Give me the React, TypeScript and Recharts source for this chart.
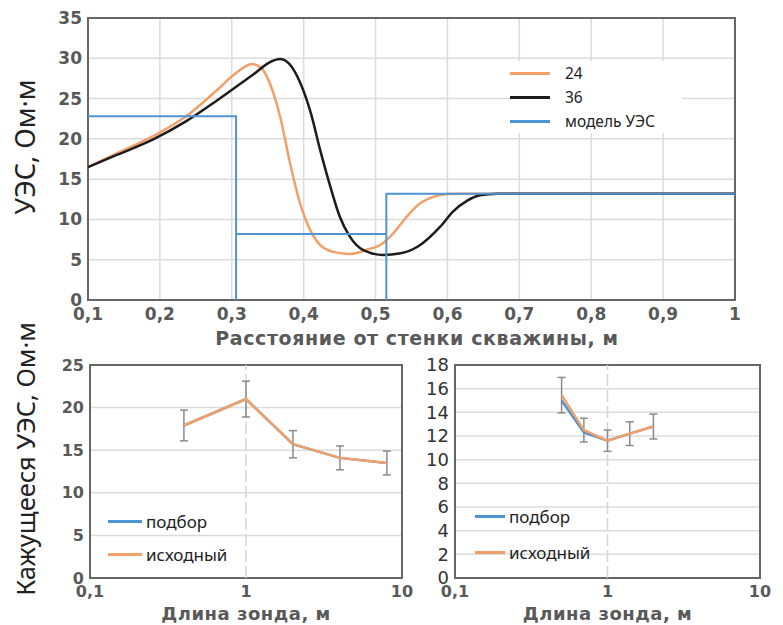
import {
  CartesianGrid,
  ErrorBar,
  Legend,
  Line,
  LineChart,
  ReferenceArea,
  ReferenceLine,
  XAxis,
  YAxis,
} from "recharts";

// top chart: resistivity vs distance from borehole wall
const x24 = [0.1, 0.14, 0.19, 0.235, 0.28, 0.305, 0.328, 0.342, 0.355, 0.368, 0.381, 0.395, 0.409, 0.423, 0.44, 0.464, 0.49, 0.506, 0.525, 0.543, 0.562, 0.58, 0.6, 0.62, 1.0];
const r24 = [16.5, 18.2, 20.3, 22.7, 26.1, 28.1, 29.3, 28.7, 26.4, 22.5, 17.0, 12.0, 8.7, 6.8, 6.0, 5.7, 6.3, 6.8, 8.3, 10.3, 12.0, 12.8, 13.15, 13.2, 13.2];
const x36 = [0.1, 0.14, 0.19, 0.235, 0.28, 0.33, 0.355, 0.367, 0.38, 0.395, 0.41, 0.423, 0.437, 0.45, 0.464, 0.483, 0.51, 0.535, 0.56, 0.59, 0.608, 0.627, 0.645, 0.67, 1.0];
const r36 = [16.5, 18.0, 19.9, 22.1, 24.8, 28.0, 29.6, 29.9, 29.3, 27.0, 23.2, 18.6, 14.1, 10.4, 7.9, 6.2, 5.6, 5.8, 6.7, 9.1, 11.0, 12.3, 13.0, 13.2, 13.2];
const xModel = [0.1, 0.306, 0.306, 0.306, 0.515, 0.515, 0.515, 1.0];
const rModel = [22.8, 22.8, 0, 8.2, 8.2, 0, 13.2, 13.2];
const distTicks = [0.1, 0.2, 0.3, 0.4, 0.5, 0.6, 0.7, 0.8, 0.9, 1];
const resTicks = [0, 5, 10, 15, 20, 25, 30, 35];

// bottom left
const probeA = [0.4, 1, 2, 4, 8];
const fitA = [17.9, 21.0, 15.7, 14.1, 13.5];
const srcA = [17.9, 21.0, 15.7, 14.1, 13.5];
const errA = [1.8, 2.1, 1.6, 1.4, 1.4];
const ticksA = [0, 5, 10, 15, 20, 25];

// bottom right
const probeB = [0.5, 0.7, 1, 1.4, 2];
const fitB = [15.0, 12.3, 11.6, 12.2, 12.8];
const srcB = [15.45, 12.5, 11.6, 12.2, 12.8];
const errB = [1.5, 1.0, 0.9, 1.0, 1.05];
const ticksB = [0, 2, 4, 6, 8, 10, 12, 14, 16, 18];
const logTicks = [0.1, 1, 10];

const ORANGE = "#F2A06A";
const BLUE = "#4F94D4";
const BLACK = "#1c1c1c";
const GRID = "#dcdcdc";
const BORDER = "#666";

const pts = (xs: number[], ys: number[]) => xs.map((x, i) => ({ x, y: ys[i] }));
const withErr = (xs: number[], ys: number[], es: number[]) =>
  xs.map((x, i) => ({ x, y: ys[i], err: es[i] }));

const comma = (v: number) => String(v).replace(".", ",");
const boldTick = { fill: "#595959", fontFamily: "DejaVu Sans", fontWeight: 700 };

function LineLegend({ payload, order, rowH, lineW, gap, fontSize }: any) {
  const items = [...(payload || [])].sort(
    (a: any, b: any) => order.indexOf(a.value) - order.indexOf(b.value)
  );
  return (
    <div style={{ fontFamily: "Noto Sans", fontSize, color: "#222" }}>
      {items.map((p: any) => (
        <div key={p.value} style={{ display: "flex", alignItems: "center", height: rowH }}>
          <span style={{ width: lineW, height: 3, background: p.color, marginRight: gap }} />
          <span>{p.value}</span>
        </div>
      ))}
    </div>
  );
}

function TopChart() {
  return (
    <LineChart width={783} height={350} margin={{ top: 18, right: 48, bottom: 0, left: 0 }}>
      <CartesianGrid stroke={GRID} strokeWidth={1.5} />
      <XAxis
        type="number"
        dataKey="x"
        domain={[0.1, 1]}
        ticks={distTicks}
        tickFormatter={(v) => (v === 1 ? "1" : v.toFixed(1).replace(".", ","))}
        tickLine={false}
        axisLine={false}
        height={50}
        tick={{ ...boldTick, fontSize: 17 }}
        interval={0}
      />
      <YAxis
        type="number"
        domain={[0, 35]}
        ticks={resTicks}
        tickLine={false}
        axisLine={false}
        width={88}
        tickSize={4}
        tickMargin={2}
        tick={{ ...boldTick, fontSize: 17 }}
        interval={0}
      />
      <Line data={pts(x24, r24)} dataKey="y" name="24" type="monotone" stroke={ORANGE} strokeWidth={2.5} dot={false} isAnimationActive={false} />
      <Line data={pts(x36, r36)} dataKey="y" name="36" type="monotone" stroke={BLACK} strokeWidth={2.5} dot={false} isAnimationActive={false} />
      <Line data={pts(xModel, rModel)} dataKey="y" name="модель УЭС" type="linear" stroke={BLUE} strokeWidth={2} dot={false} isAnimationActive={false} />
      <ReferenceArea x1={0.1} x2={1} y1={0} y2={35} fill="none" stroke={BORDER} strokeWidth={2} ifOverflow="visible" />
      <Legend
        layout="vertical"
        align="center"
        verticalAlign="middle"
        wrapperStyle={{ left: 510, top: 61, width: 172, background: "#fff" }}
        content={(props: any) => (
          <LineLegend {...props} order={["24", "36", "модель УЭС"]} rowH={24} lineW={40} gap={15} fontSize={15.5} />
        )}
      />
      <text
        x={24}
        y={147}
        transform="rotate(-90 24 147)"
        textAnchor="middle"
        dominantBaseline="central"
        fontFamily="Noto Sans"
        fontSize={27}
        fill="#222"
      >
        УЭС, Ом·м
      </text>
      <text
        x={417}
        y={338}
        textAnchor="middle"
        dominantBaseline="central"
        fontFamily="DejaVu Sans"
        fontWeight={700}
        fontSize={19}
        letterSpacing={0.6}
        fill="#595959"
      >
        Расстояние от стенки скважины, м
      </text>
    </LineChart>
  );
}

function ProbeChart({
  width,
  yWidth,
  rightM,
  fit,
  src,
  xs,
  errs,
  yMax,
  yTicks,
  yTick,
  legendLeft,
  legendTop,
  rowH,
  lineW,
  children,
}: any) {
  return (
    <LineChart width={width} height={305} margin={{ top: 45, right: rightM, bottom: 0, left: 0 }}>
      <CartesianGrid stroke={GRID} strokeWidth={1.5} vertical={false} />
      <ReferenceLine x={1} stroke="#d6d6d6" strokeWidth={1.5} strokeDasharray="12 4" />
      <XAxis
        type="number"
        dataKey="x"
        scale="log"
        domain={[0.1, 10]}
        ticks={logTicks}
        tickFormatter={comma}
        tickLine={false}
        axisLine={false}
        height={47}
        tick={{ ...boldTick, fontSize: 16 }}
        interval={0}
        allowDataOverflow
      />
      <YAxis
        type="number"
        domain={[0, yMax]}
        ticks={yTicks}
        tickLine={false}
        axisLine={false}
        width={yWidth}
        tickSize={4}
        tickMargin={2}
        tick={yTick}
        interval={0}
      />
      <Line data={pts(xs, fit)} dataKey="y" name="подбор" type="linear" stroke={BLUE} strokeWidth={2.5} dot={false} isAnimationActive={false} />
      <Line data={withErr(xs, src, errs)} dataKey="y" name="исходный" type="linear" stroke={ORANGE} strokeWidth={2.5} dot={false} isAnimationActive={false}>
        <ErrorBar dataKey="err" direction="y" width={4} stroke="#8a8a8a" strokeWidth={1.5} />
      </Line>
      <ReferenceArea x1={0.1} x2={10} y1={0} y2={yMax} fill="none" stroke={BORDER} strokeWidth={2} ifOverflow="visible" />
      <Legend
        layout="vertical"
        align="center"
        verticalAlign="middle"
        wrapperStyle={{ left: legendLeft, top: legendTop, width: 140 }}
        content={(props: any) => (
          <LineLegend {...props} order={["подбор", "исходный"]} rowH={rowH} lineW={lineW} gap={4} fontSize={17} />
        )}
      />
      <text
        x={(width - rightM + yWidth) / 2}
        y={293}
        textAnchor="middle"
        dominantBaseline="central"
        fontFamily="DejaVu Sans"
        fontWeight={700}
        fontSize={18}
        letterSpacing={0.5}
        fill="#595959"
      >
        Длина зонда, м
      </text>
      {children}
    </LineChart>
  );
}

export default function App() {
  return (
    <div style={{ position: "absolute", left: 0, top: 0, width: 783, height: 625, background: "#fff" }}>
      <div style={{ position: "absolute", left: 0, top: 0 }}>
        <TopChart />
      </div>
      <div style={{ position: "absolute", left: 0, top: 320 }}>
        <ProbeChart
          width={420}
          yWidth={90}
          rightM={18}
          xs={probeA}
          fit={fitA}
          src={srcA}
          errs={errA}
          yMax={25}
          yTicks={ticksA}
          yTick={{ ...boldTick, fontSize: 16 }}
          legendLeft={108}
          legendTop={185}
          rowH={33}
          lineW={34}
        >
          <text
            x={25}
            y={139}
            transform="rotate(-90 25 139)"
            textAnchor="middle"
            dominantBaseline="central"
            fontFamily="Noto Sans"
            fontSize={25.5}
            fill="#222"
          >
            Кажущееся УЭС, Ом·м
          </text>
        </ProbeChart>
      </div>
      <div style={{ position: "absolute", left: 390, top: 320 }}>
        <ProbeChart
          width={393}
          yWidth={65}
          rightM={23}
          xs={probeB}
          fit={fitB}
          src={srcB}
          errs={errB}
          yMax={18}
          yTicks={ticksB}
          yTick={{ fill: "#333", fontFamily: "DejaVu Sans", fontSize: 18 }}
          legendLeft={85}
          legendTop={178}
          rowH={36}
          lineW={30}
        />
      </div>
    </div>
  );
}
